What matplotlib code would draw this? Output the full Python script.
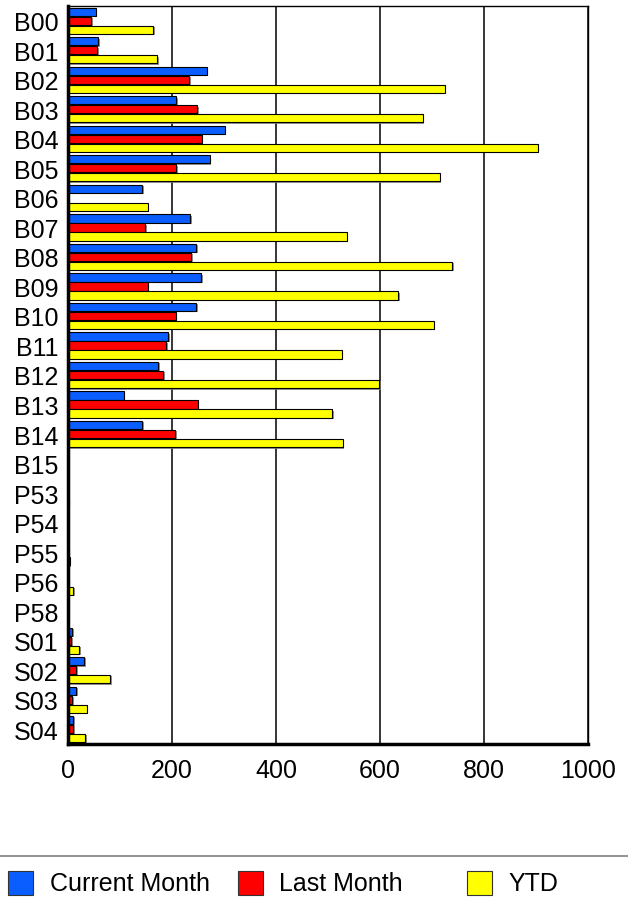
import matplotlib
matplotlib.use("Agg")
import matplotlib.pyplot as plt
import matplotlib.patheffects as pe
from matplotlib.patches import Rectangle
from matplotlib.lines import Line2D
import numpy as np

categories = ["B00", "B01", "B02", "B03", "B04", "B05", "B06", "B07", "B08", "B09",
              "B10", "B11", "B12", "B13", "B14", "B15", "P53", "P54", "P55", "P56",
              "P58", "S01", "S02", "S03", "S04"]
current_month = [53, 58, 267, 208, 301, 273, 143, 235, 247, 256,
                 247, 193, 174, 107, 143, 0, 0, 0, 0, 0,
                 0, 8, 31, 16, 10]
last_month = [45, 56, 233, 249, 257, 208, 0, 149, 237, 154,
              207, 189, 183, 250, 206, 0, 0, 0, 2, 1,
              0, 6, 16, 8, 10]
ytd = [164, 172, 725, 682, 904, 715, 154, 536, 739, 635,
       704, 526, 599, 508, 529, 0, 1, 0, 3, 10,
       0, 22, 81, 36, 33]
series_names = ["Current Month", "Last Month", "YTD"]
x_ticks = [0, 200, 400, 600, 800, 1000]

colors = ["#0A5EFF", "#FF0000", "#FFFF00"]

plt.rcParams['font.family'] = ['Liberation Sans', 'DejaVu Sans']

fig = plt.figure(figsize=(6.28, 9.03), dpi=100)
ax = fig.add_axes([68/628, 1 - 745/903, 520/628, (745 - 7)/903])

y = np.arange(len(categories))
h = 0.28
offsets = [-0.305, 0.0, 0.305]
shadow = [pe.SimplePatchShadow(offset=(1, -1), shadow_rgbFace='#777777', alpha=0.8), pe.Normal()]
for vals, off, col in zip([current_month, last_month, ytd], offsets, colors):
    bars = ax.barh(y + off, vals, height=h, color=col, edgecolor='black',
                   linewidth=0.8, zorder=3)
    for b in bars:
        b.set_path_effects(shadow)

ax.set_xlim(0, 1000)
ax.set_ylim(len(categories) - 0.5, -0.5)
ax.set_yticks(y)
ax.set_yticklabels(categories)
ax.set_xticks(x_ticks)
ax.set_xticklabels([str(t) for t in x_ticks])
ax.tick_params(axis='both', length=0, labelsize=18, colors='black')
ax.tick_params(axis='y', pad=7)
ax.tick_params(axis='x', pad=10)
ax.xaxis.grid(True, color='black', linewidth=1.1, zorder=0)
ax.set_axisbelow(True)
for s in ['top', 'right']:
    ax.spines[s].set_linewidth(1.0)
for s in ['left', 'bottom']:
    ax.spines[s].set_linewidth(2.5)
    ax.spines[s].set_zorder(5)

# legend area
fig.add_artist(Line2D([0, 1], [1 - 857/903, 1 - 857/903], color='#808080', linewidth=1.2))
box_x = [8, 238, 467]
text_x = [50, 279, 508]
for bx, tx, col, name in zip(box_x, text_x, colors, series_names):
    fig.add_artist(Rectangle((bx/628, 1 - 896/903), 25/628, 24/903,
                             facecolor=col, edgecolor='#333333', linewidth=0.8,
                             transform=fig.transFigure))
    fig.text(tx/628, 1 - 884/903, name, fontsize=18, va='center', ha='left')

fig.savefig("out.png", dpi=100)
